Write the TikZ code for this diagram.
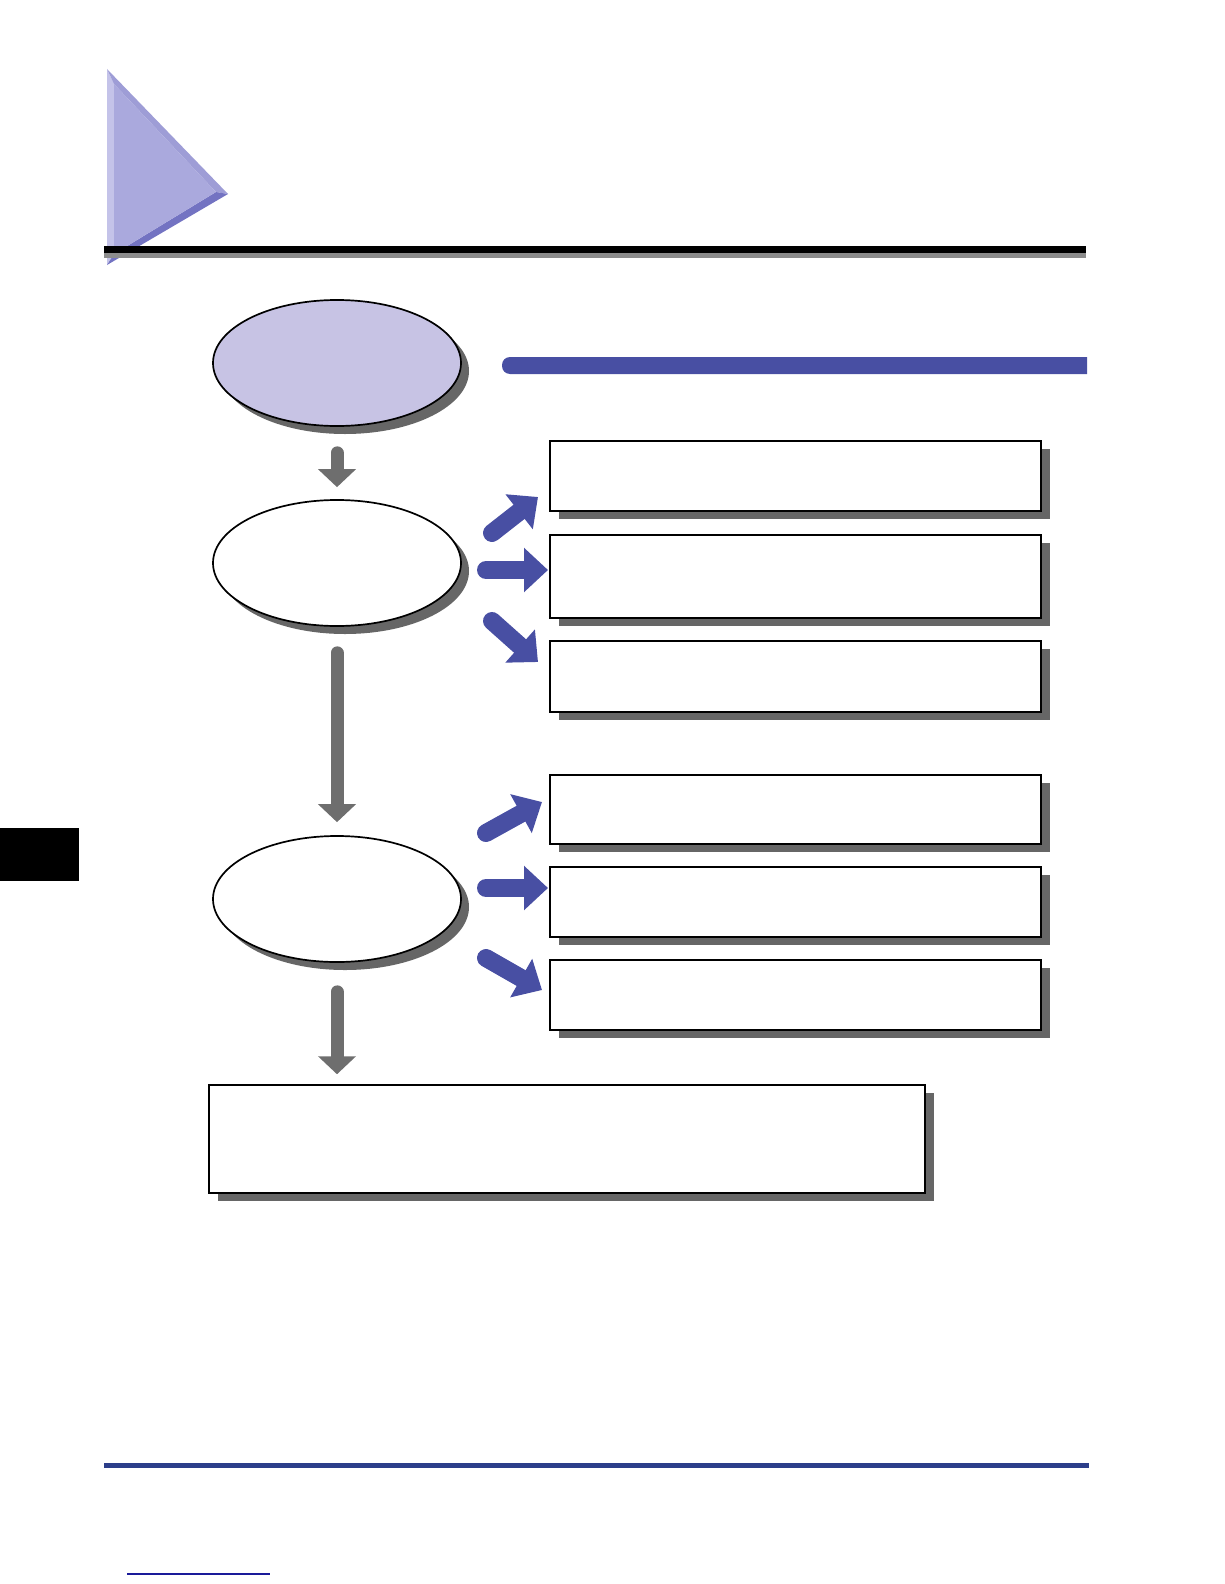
\documentclass[tikz,border=0pt]{standalone}
\usepackage{tikz}
\usetikzlibrary{arrows.meta,shapes.geometric,shadows}
\definecolor{lavfill}{RGB}{199,195,228}
\definecolor{shadegray}{RGB}{102,102,102}
\definecolor{stepgray}{RGB}{110,110,110}
\definecolor{barblue}{RGB}{72,79,163}
\definecolor{footblue}{RGB}{44,62,138}
\definecolor{linkblue}{RGB}{26,26,153}
\definecolor{trimain}{RGB}{170,169,221}
\definecolor{trileft}{RGB}{196,195,233}
\definecolor{triright}{RGB}{158,157,214}
\definecolor{tribottom}{RGB}{115,115,194}

\begin{document}
\begin{tikzpicture}[x=1pt,y=-1pt,>=Latex]
\tikzstyle{stage}=[ellipse,draw=black,line width=1.7pt,fill=white,minimum width=248pt,minimum height=126pt,inner sep=0pt,drop shadow={shadow xshift=8pt,shadow yshift=-8pt,opacity=1,fill=shadegray}]
\tikzstyle{infobox}=[rectangle,draw=black,line width=1.5pt,fill=white,minimum width=491pt,inner sep=0pt,drop shadow={shadow xshift=9pt,shadow yshift=-8pt,opacity=1,fill=shadegray}]
\tikzstyle{downarrow}=[stepgray,line width=13pt,line cap=round,-{Triangle[length=18pt,width=37pt]}]
\tikzstyle{fatarrow}=[barblue,line width=18pt,line cap=round,-{Triangle[length=24pt,width=43pt]}]
\useasboundingbox (0,0) rectangle (1224,1584);

% heading triangle
\fill[trileft] (107,69) -- (114,84) -- (114,254) -- (107,265) -- cycle;
\fill[triright] (107,69) -- (228,194) -- (216,192) -- (114,84) -- cycle;
\fill[tribottom] (228,194) -- (107,265) -- (114,254) -- (216,192) -- cycle;
\fill[trimain] (114,84) -- (216,192) -- (114,254) -- cycle;
\fill[black] (104,246) rectangle (1086,253);
\fill[gray!90] (104,253) rectangle (1086,258);

% side tab
\fill[black] (0,828) rectangle (79,881);

% bar
\fill[barblue] (1087,374) -- (1087,357) [rounded corners=8pt] -- (502,357) -- (502,374) [sharp corners] -- cycle;

% stages
\node[stage,fill=lavfill] (s1) at (337,363) {};
\node[stage] (s2) at (337,563) {};
\node[stage] (s3) at (337,899) {};

% boxes
\node[infobox,minimum height=70pt] (b1) at (795.5,476) {};
\node[infobox,minimum height=83pt] (b2) at (795.5,576.5) {};
\node[infobox,minimum height=71pt] (b3) at (795.5,676.5) {};
\node[infobox,minimum height=69pt] (b4) at (795.5,809.5) {};
\node[infobox,minimum height=70pt] (b5) at (795.5,902) {};
\node[infobox,minimum height=70pt] (b6) at (795.5,995) {};
\node[infobox,minimum width=716pt,minimum height=108pt] (b7) at (567,1139) {};

% flow
\draw[downarrow,shorten <=26pt,shorten >=12pt] (s1.south) -- (s2.north);
\draw[downarrow,shorten <=26pt,shorten >=13pt] (s2.south) -- (s3.north);
\draw[downarrow,shorten <=29pt,shorten >=10pt] (s3.south) -- (s3.south |- b7.north);

% choices
\coordinate (u1) at (492,533); \coordinate (u1t) at (538,497);
\coordinate (m1) at (486,570); \coordinate (m1t) at (548,570);
\coordinate (d1) at (492,621); \coordinate (d1t) at (538,662);
\coordinate (u2) at (486,833); \coordinate (u2t) at (542,802);
\coordinate (m2) at (486,888); \coordinate (m2t) at (548,888);
\coordinate (d2) at (486,958); \coordinate (d2t) at (542,990);
\draw[fatarrow] (u1)--(u1t); \draw[fatarrow] (m1)--(m1t); \draw[fatarrow] (d1)--(d1t);
\draw[fatarrow] (u2)--(u2t); \draw[fatarrow] (m2)--(m2t); \draw[fatarrow] (d2)--(d2t);

% footer
\fill[footblue] (104,1463) rectangle (1089,1468);
\draw[linkblue,line width=2pt] (127,1574) -- (270,1574);
\end{tikzpicture}
\end{document}
